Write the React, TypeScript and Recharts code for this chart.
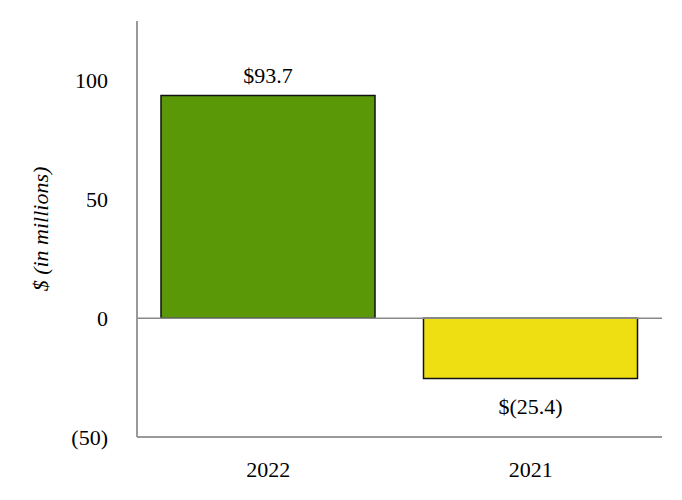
import { BarChart, Bar, XAxis, YAxis, Cell, ReferenceLine, LabelList } from "recharts";

const years = ["2022", "2021"];
const netIncome = [93.7, -25.4];
const barColors = ["#5a9807", "#eedf13"];
const yTicks = [-50, 0, 50, 100];

const data = years.map((year, i) => ({ year, value: netIncome[i] }));

const FONT = "Liberation Serif, Times New Roman, serif";
const FS = 22;

const fmtTick = (v: number) => (v < 0 ? `(${Math.abs(v)})` : String(v));
const fmtMoney = (v: number) =>
  v < 0 ? `$(${Math.abs(v).toFixed(1)})` : `$${v.toFixed(1)}`;

function ValueLabel(props: any) {
  const { x, y, width, height, value } = props;
  const top = Math.min(y, y + height);
  const bottom = Math.max(y, y + height);
  const cx = x + width / 2;
  const ty = value >= 0 ? top - 12 : bottom + 35;
  return (
    <text x={cx} y={ty} textAnchor="middle" fontFamily={FONT} fontSize={FS} fill="#000">
      {fmtMoney(value)}
    </text>
  );
}

export default function App() {
  return (
    <div style={{ position: "absolute", left: 0, top: 0, background: "#fff" }}>
      <BarChart
        width={682}
        height={500}
        data={data}
        margin={{ top: 21, right: 20, left: 0, bottom: 0 }}
      >
        <XAxis
          dataKey="year"
          height={63}
          tickLine={false}
          tickSize={0}
          tickMargin={24}
          axisLine={{ stroke: "#999", strokeWidth: 2 }}
          tick={{ fill: "#000", fontSize: FS, fontFamily: FONT }}
        />
        <YAxis
          width={137}
          domain={[-50, 125]}
          ticks={yTicks}
          tickFormatter={fmtTick}
          tickLine={false}
          tickSize={0}
          tickMargin={29}
          axisLine={{ stroke: "#999", strokeWidth: 2 }}
          tick={{ fill: "#000", fontSize: FS, fontFamily: FONT }}
          label={{
            value: "$ (in millions)",
            angle: -90,
            position: "center",
            dx: -28,
            style: { fontFamily: FONT, fontSize: FS, fontStyle: "italic", fill: "#000" },
          }}
        />
        <ReferenceLine y={0} stroke="#888" strokeWidth={1.5} />
        <Bar dataKey="value" barSize={214} stroke="#111" strokeWidth={1.5} isAnimationActive={false}>
          {data.map((d, i) => (
            <Cell key={d.year} fill={barColors[i]} />
          ))}
          <LabelList dataKey="value" content={ValueLabel} />
        </Bar>
      </BarChart>
    </div>
  );
}
